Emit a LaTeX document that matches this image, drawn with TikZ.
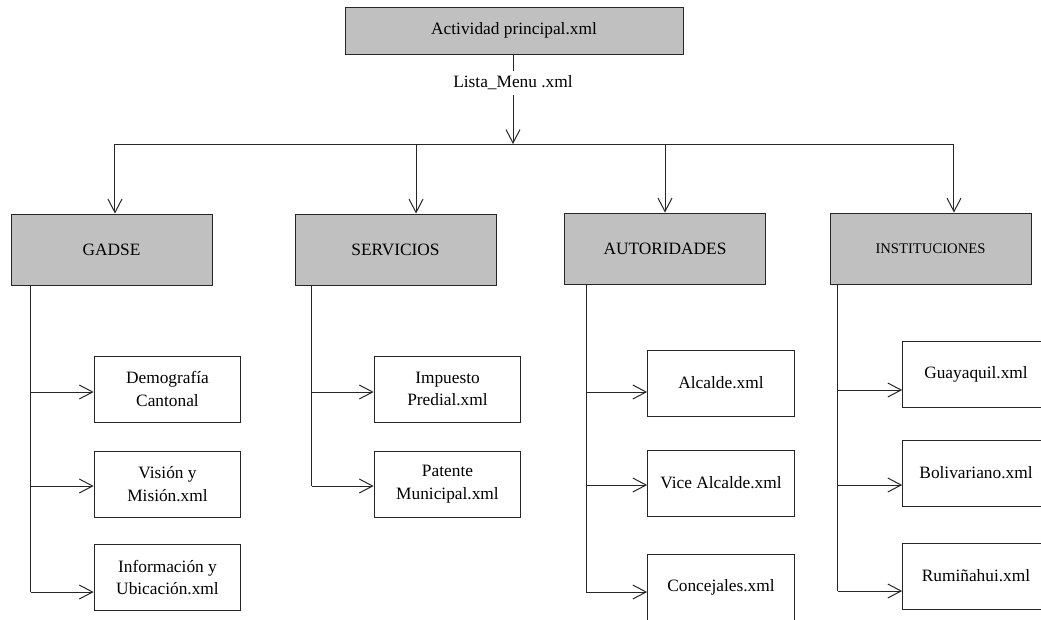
\documentclass[tikz,border=0pt]{standalone}
\usepackage{fontspec}
\setmainfont{Liberation Serif}
\usetikzlibrary{arrows.meta}

\definecolor{boxgray}{HTML}{C0C0C0}
\tikzset{
  txt/.style={font=\fontsize{13}{17}\selectfont},
  menubox/.style={txt, draw=black!85, fill=boxgray, minimum width=150.75pt, minimum height=53.25pt},
  itembox/.style={txt, draw=black!85, fill=white, align=center, minimum width=110pt, minimum height=49.5pt},
  arr/.style={-{Straight Barb[length=10pt,width=10.5pt]}},
}

\begin{document}
\begin{tikzpicture}[x=0.75pt, y=-0.75pt, line width=0.75pt, draw=black!85]
  \useasboundingbox (0,0) rectangle (1041,619);

  % main activity and menu list
  \node[menubox, minimum width=253.5pt, minimum height=35.25pt] (main) at (514,30.5) {Actividad principal.xml};
  \node[txt] (lista) at (513,83) {Lista\_Menu .xml};
  \coordinate (bus) at (513,144);
  \draw (main.south -| lista) -- (lista);
  \draw[arr] (lista) -- (bus);

  % menu entries
  \node[menubox] (gadse)         at (111.5,249.5) {GADSE};
  \node[menubox] (servicios)     at (395.5,249.5) {SERVICIOS};
  \node[menubox] (autoridades)   at (665,248.5)   {AUTORIDADES};
  \node[menubox, font=\fontsize{11}{13}\selectfont] (instituciones) at (930.5,248.5) {INSTITUCIONES};

  \foreach \p/\dx in {gadse/2.6, servicios/15.4, autoridades/0, instituciones/17.6}{
    \path ([xshift=\dx pt]\p.north) coordinate (top\p);
    \draw[arr] (top\p |- bus) -- (top\p);
  }
  \draw (topgadse |- bus) -- (topinstituciones |- bus);

  % xml pages
  \node[itembox] (g1) at (167.5,389)   {Demografía\\Cantonal};
  \node[itembox] (g2) at (167.5,484)   {Visión y\\Misión.xml};
  \node[itembox] (g3) at (167.5,577.5) {Información y\\Ubicación.xml};
  \node[itembox] (s1) at (447.5,389)   {Impuesto\\Predial.xml};
  \node[itembox] (s2) at (447.5,484)   {Patente\\Municipal.xml};
  \node[itembox] (a1) at (721,383)     {Alcalde.xml};
  \node[itembox] (a2) at (721,483)     {Vice Alcalde.xml};
  \node[itembox] (a3) at (721,587)     {Concejales.xml};
  \node[itembox] (i1) at (976,374)     {Guayaquil.xml};
  \node[itembox] (i2) at (976,473)     {Bolivariano.xml};
  \node[itembox] (i3) at (976,576)     {Rumiñahui.xml};

  \foreach \p/\dx in {gadse/15, servicios/12.75, autoridades/16.5, instituciones/6}
    \path ([xshift=\dx pt]\p.south west) coordinate (t\p);

  \foreach \p/\c/\dy in {gadse/g1/-2.25, gadse/g2/-1.5, gadse/g3/-10.9,
                         servicios/s1/-2.25, servicios/s2/-1.5,
                         autoridades/a1/-6.75, autoridades/a2/-1.5, autoridades/a3/-3.75,
                         instituciones/i1/-12, instituciones/i2/-9, instituciones/i3/-11.25}{
    \path ([yshift=\dy pt]\c.west) coordinate (in\c);
    \draw[arr] (t\p |- in\c) -- (in\c);
  }
  \foreach \p/\c in {gadse/g3, servicios/s2, autoridades/a3, instituciones/i3}
    \draw (t\p) -- (t\p |- in\c);
\end{tikzpicture}
\end{document}
